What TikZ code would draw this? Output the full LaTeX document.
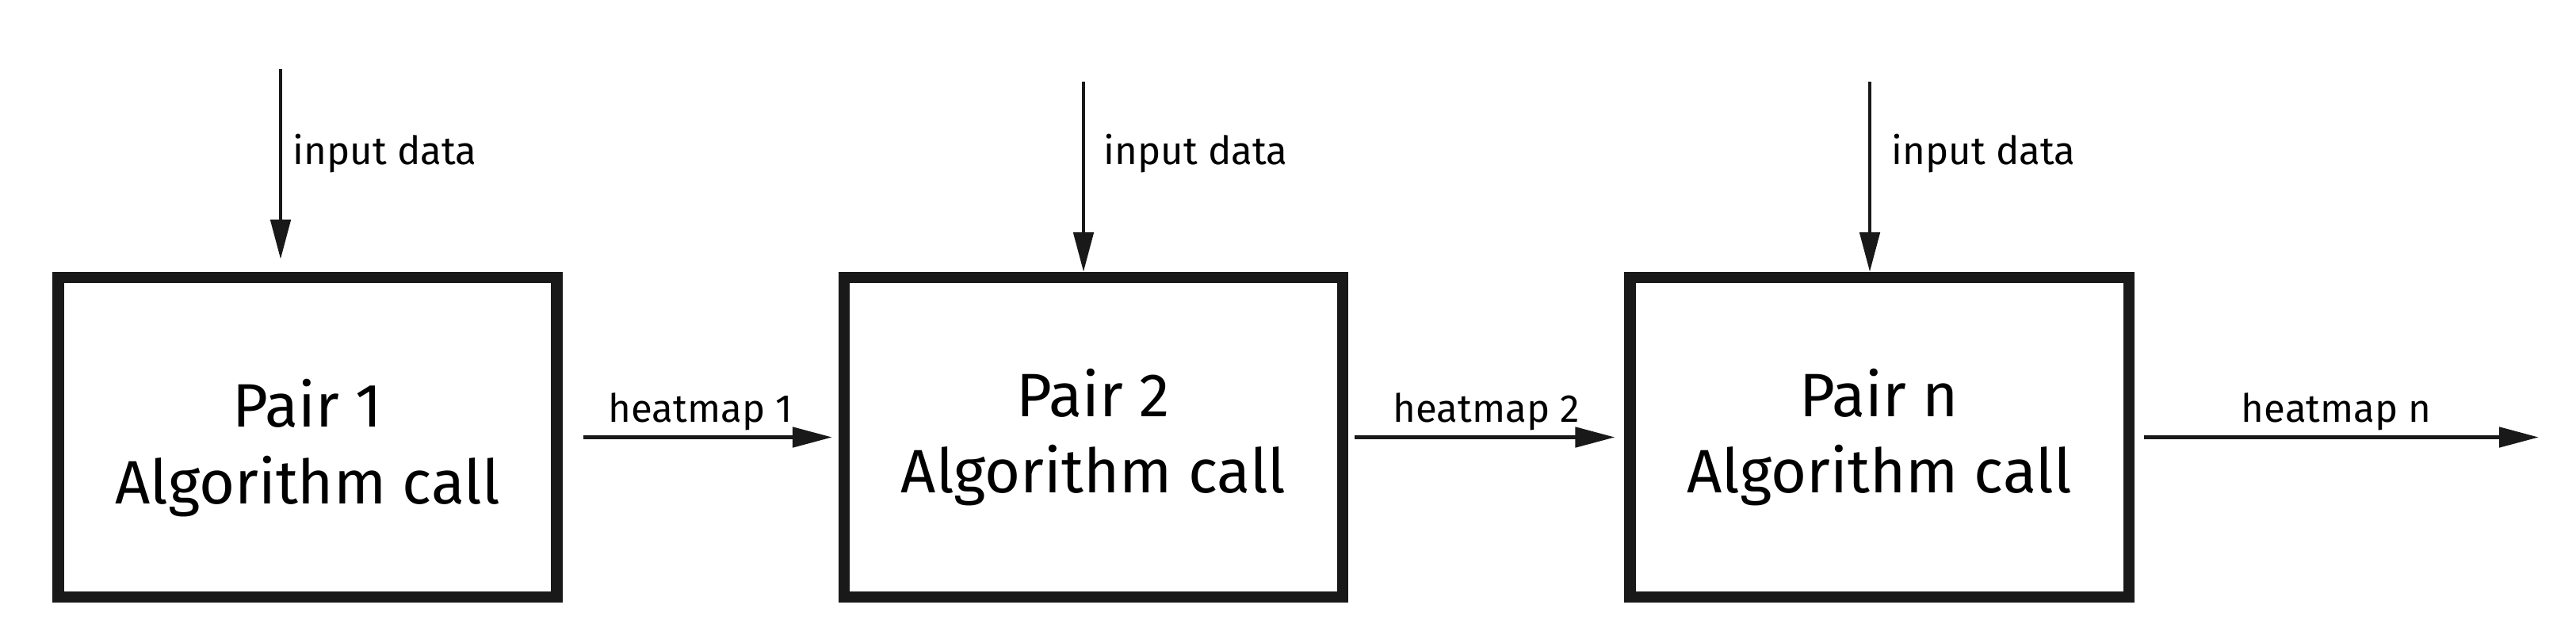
\documentclass[tikz,border=0pt]{standalone}
\usepackage{fontspec}
\setmainfont{Fira Sans}
\usetikzlibrary{arrows.meta}

\begin{document}
\begin{tikzpicture}[
  pairbox/.style={draw=black!90, line width=4pt, minimum width=6.29cm, minimum height=4.03cm, align=center, font=\fontsize{22}{27.5}\selectfont},
  flow/.style={draw=black!90, line width=1.4pt, -{Triangle[length=5mm,width=2.5mm]}},
  lbl/.style={font=\fontsize{14}{17}\selectfont, inner sep=0pt}]
\useasboundingbox (0,0) rectangle (32.5,8.1);
% the three calls
\node[pairbox] (p1) at (3.88,2.585)  {\rule{0pt}{25pt}Pair 1\\ Algorithm call};
\node[pairbox] (p2) at (13.795,2.585) {Pair 2\\ Algorithm call};
\node[pairbox] (p3) at (23.71,2.585) {Pair n\\ Algorithm call};
% free ends
\coordinate (in1) at (3.54,7.23);
\coordinate (in2) at (13.67,7.07);
\coordinate (in3) at (23.59,7.07);
\coordinate (out) at (32.03,2.585);
% input arrows
\draw[flow, shorten >=1.6mm] (in1) -- (in1 |- p1.north);
\draw[flow] (in2) -- (in2 |- p2.north);
\draw[flow] (in3) -- (in3 |- p3.north);
\node[lbl, anchor=base west] (d1) at (3.69,6.03)  {input data};
\node[lbl, anchor=base west] (d2) at (13.92,6.03) {input data};
\node[lbl, anchor=base west] (d3) at (23.86,6.03) {input data};
% heatmaps passed on
\draw[flow, shorten <=2.6mm, shorten >=0.8mm] (p1.east) -- node[lbl, above=0.6mm] (h1) {heatmap 1} (p2.west);
\draw[flow, shorten <=0.8mm, shorten >=1.2mm] (p2.east) -- node[lbl, above=0.6mm] (h2) {heatmap 2} (p3.west);
\draw[flow, shorten <=1.2mm] (p3.east) -- node[lbl, above=0.6mm] (hn) {heatmap n} (out);
\end{tikzpicture}
\end{document}
